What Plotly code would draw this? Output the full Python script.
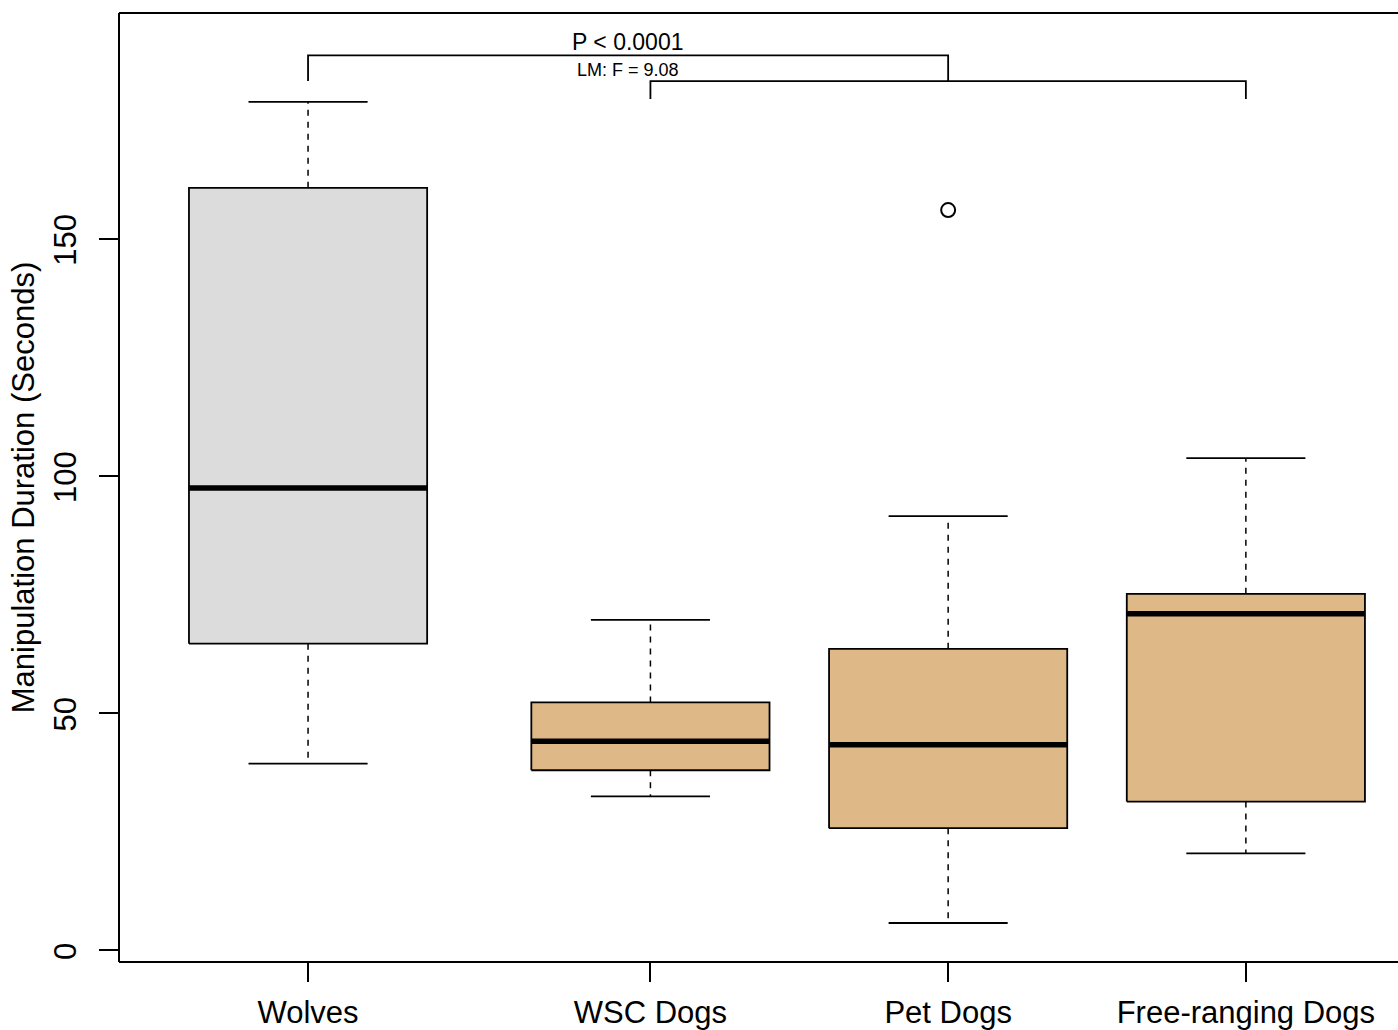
import plotly.graph_objects as go

# ---- data ----
groups = ["Wolves", "WSC Dogs", "Pet Dogs", "Free-ranging Dogs"]
positions = [1.0, 2.15, 3.15, 4.15]
lower_whisker = [39.3, 32.4, 5.7, 20.4]
q1 = [64.6, 37.9, 25.7, 31.3]
median = [97.4, 44.0, 43.3, 70.9]
q3 = [160.7, 52.2, 63.5, 75.1]
upper_whisker = [178.8, 69.6, 91.5, 103.7]
fills = ["#DCDCDC", "#DEB887", "#DEB887", "#DEB887"]
outlier_x = [3.15]
outlier_y = [156.0]

y_ticks = [0, 50, 100, 150]

# significance annotation
bracket1_x = [1.0, 3.15]
bracket1_y = [188.6, 183.2]   # top, ends
bracket2_x = [2.15, 4.15]
bracket2_y = [183.2, 179.4]   # top, ends
label_x = 2.075
label1 = "P < 0.0001"
label1_y = 191.5
label2 = "LM: F = 9.08"
label2_y = 185.6

BOXW = 0.4
CAPW = 0.2
FONT = "Liberation Sans, Arial, Helvetica, sans-serif"

fig = go.Figure()

for i in range(len(groups)):
    p = positions[i]
    # whiskers (dashed)
    fig.add_trace(go.Scatter(
        x=[p, p, None, p, p],
        y=[q3[i], upper_whisker[i], None, q1[i], lower_whisker[i]],
        mode="lines", line=dict(color="black", width=1.5, dash="6px,6px"),
        hoverinfo="skip", showlegend=False))
    # caps
    fig.add_trace(go.Scatter(
        x=[p - CAPW, p + CAPW, None, p - CAPW, p + CAPW],
        y=[upper_whisker[i], upper_whisker[i], None, lower_whisker[i], lower_whisker[i]],
        mode="lines", line=dict(color="black", width=1.8),
        hoverinfo="skip", showlegend=False))
    # box
    fig.add_trace(go.Scatter(
        x=[p - BOXW, p + BOXW, p + BOXW, p - BOXW, p - BOXW],
        y=[q1[i], q1[i], q3[i], q3[i], q1[i]],
        mode="lines", fill="toself", fillcolor=fills[i],
        line=dict(color="black", width=1.8),
        hoverinfo="skip", showlegend=False))
    # median
    fig.add_trace(go.Scatter(
        x=[p - BOXW, p + BOXW], y=[median[i], median[i]],
        mode="lines", line=dict(color="black", width=5.5),
        hoverinfo="skip", showlegend=False))

# outlier
fig.add_trace(go.Scatter(
    x=outlier_x, y=outlier_y, mode="markers",
    marker=dict(symbol="circle-open", size=14, color="black", line=dict(width=2)),
    hoverinfo="skip", showlegend=False))

# brackets
fig.add_trace(go.Scatter(
    x=[bracket1_x[0], bracket1_x[0], bracket1_x[1], bracket1_x[1]],
    y=[bracket1_y[1], bracket1_y[0], bracket1_y[0], bracket1_y[1]],
    mode="lines", line=dict(color="black", width=1.8),
    hoverinfo="skip", showlegend=False))
fig.add_trace(go.Scatter(
    x=[bracket2_x[0], bracket2_x[0], bracket2_x[1], bracket2_x[1]],
    y=[bracket2_y[1], bracket2_y[0], bracket2_y[0], bracket2_y[1]],
    mode="lines", line=dict(color="black", width=1.8),
    hoverinfo="skip", showlegend=False))

fig.add_annotation(x=label_x, y=label1_y, text=label1, showarrow=False,
                   font=dict(family=FONT, size=23, color="black"),
                   xanchor="center", yanchor="middle")
fig.add_annotation(x=label_x, y=label2_y, text=label2, showarrow=False,
                   font=dict(family=FONT, size=18, color="black"),
                   xanchor="center", yanchor="middle")

# frame: left, top, bottom (right edge is cut off in the reference)
for (x0, y0, x1, y1) in [(0, 0, 0, 1), (0, 1, 1, 1), (0, 0, 1, 0)]:
    fig.add_shape(type="line", xref="paper", yref="paper",
                  x0=x0, y0=y0, x1=x1, y1=y1,
                  line=dict(color="black", width=2))

fig.update_layout(
    width=1398, height=1030,
    margin=dict(l=119, r=0, t=13, b=66),
    paper_bgcolor="white", plot_bgcolor="white",
    font=dict(family=FONT, color="black"),
    xaxis=dict(
        range=[0.365, 4.661], showgrid=False, zeroline=False, showline=False,
        tickmode="array", tickvals=positions, ticktext=groups,
        ticks="outside", ticklen=19, tickwidth=1.5, tickcolor="black",
        tickfont=dict(family=FONT, size=31, color="black"),
        ticklabelstandoff=4,
    ),
    yaxis=dict(
        range=[-2.52, 197.55], showgrid=False, zeroline=False, showline=False,
        tickmode="array", tickvals=y_ticks, ticktext=[str(v) for v in y_ticks],
        ticks="outside", ticklen=19, tickwidth=1.5, tickcolor="black",
        tickangle=-90,
        tickfont=dict(family=FONT, size=31, color="black"),
        ticklabelstandoff=11, ticklabelshift=6,
        title=dict(text="Manipulation Duration (Seconds)",
                   font=dict(family=FONT, size=31, color="black"), standoff=3),
    ),
)

fig.write_html("out.html")
